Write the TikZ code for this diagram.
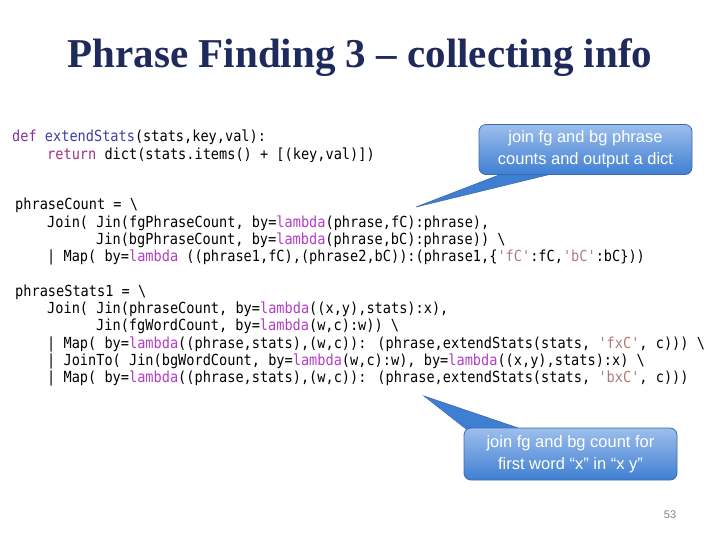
\documentclass[tikz,border=0pt]{standalone}
\usepackage{fontspec}
\setmainfont{Liberation Serif}
\newfontfamily\codefont{DejaVu Sans Mono}
\newfontfamily\callfont{Liberation Sans}
\definecolor{titlecol}{HTML}{1F2A5C}
\definecolor{kwpurple}{HTML}{8A2F9E}
\definecolor{fnblue}{HTML}{3C3CA8}
\definecolor{retcol}{HTML}{A03080}
\definecolor{lamcol}{HTML}{B43CC8}
\definecolor{strcol}{HTML}{B07A7A}
\definecolor{calltop}{HTML}{9DBEEC}
\definecolor{callbot}{HTML}{3F7FD2}
\definecolor{callborder}{HTML}{3A6BB0}
\newcommand{\lam}{\textcolor{lamcol}{lambda}}
\newcommand{\sq}[1]{\textcolor{strcol}{\char39#1\char39}}
\newcommand{\bs}{\textbackslash}
\begin{document}
\begin{tikzpicture}[x=1pt,y=-1pt,
  code/.style={anchor=base west,inner sep=0pt,yscale=1.12,font=\codefont\fontsize{13.6}{15}\selectfont},
  codeb/.style={code},
  callout/.style={rounded corners=7pt,draw=callborder,line width=0.8pt,top color=calltop,bottom color=callbot,
     text=white,font=\callfont\fontsize{16.5}{22}\selectfont,align=center,minimum width=213pt,minimum height=50pt,inner sep=2pt},
  tail/.style={fill=callbot,draw=callborder,line width=0.6pt}]
\useasboundingbox (0,0) rectangle (720,540);
\node[font=\bfseries\fontsize{41}{44}\selectfont,text=titlecol] (title) at (360,58) {Phrase Finding 3 -- collecting info};

\node[code] (l1) at (12,142) {\textcolor{kwpurple}{def} \textcolor{fnblue}{extendStats}(stats,key,val):};
\node[code] (l2) at (47,160) {\textcolor{retcol}{return} dict(stats.items() + [(key,val)])};
\node[code] (l3) at (15,210) {phraseCount = \bs};
\node[code] (l4) at (47,227) {Join( Jin(fgPhraseCount, by=\lam(phrase,fC):phrase),};
\node[code] (l5) at (96,244) {Jin(bgPhraseCount, by=\lam(phrase,bC):phrase)) \bs};
\node[code] (l6) at (47,261) {| Map( by=\lam\ ((phrase1,fC),(phrase2,bC)):(phrase1,\{\sq{fC}:fC,\sq{bC}:bC\}))};
\node[codeb] (l7) at (15,296) {phraseStats1 = \bs};
\node[codeb] (l8) at (47,313) {Join( Jin(phraseCount, by=\lam((x,y),stats):x),};
\node[codeb] (l9) at (96,330) {Jin(fgWordCount, by=\lam(w,c):w)) \bs};
\node[codeb] (l10) at (47,348) {| Map( by=\lam((phrase,stats),(w,c)): (phrase,extendStats(stats, \sq{fxC}, c))) \bs};
\node[codeb] (l11) at (47,365) {| JoinTo( Jin(bgWordCount, by=\lam(w,c):w), by=\lam((x,y),stats):x) \bs};
\node[codeb] (l12) at (47,382) {| Map( by=\lam((phrase,stats),(w,c)): (phrase,extendStats(stats, \sq{bxC}, c)))};

\coordinate (t1) at (416,207);
\coordinate (t1a) at (512,170);
\coordinate (t1b) at (568,170);
\draw[tail] (t1a) -- (t1) -- (t1b) -- cycle;
\node[callout] (c1) at (585.5,149.5) {join fg and bg phrase\\counts and output a dict};

\coordinate (t2) at (424,396);
\coordinate (t2a) at (470,432);
\coordinate (t2b) at (530,432);
\draw[tail] (t2a) -- (t2) -- (t2b) -- cycle;
\node[callout,minimum height=52pt] (c2) at (570.5,454) {join fg and bg count for\\first word “x” in “x y”};

\node[font=\callfont\fontsize{11}{13}\selectfont,text=gray] (pg) at (670,515) {53};
\end{tikzpicture}
\end{document}
